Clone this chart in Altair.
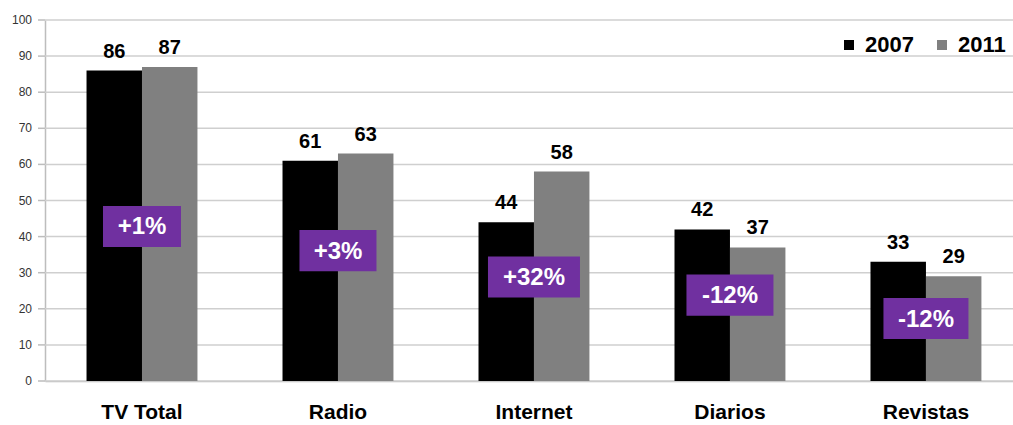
import altair as alt
import pandas as pd

categories = ["TV Total", "Radio", "Internet", "Diarios", "Revistas"]
years = ["2007", "2011"]
values_2007 = [86, 61, 44, 42, 33]
values_2011 = [87, 63, 58, 37, 29]
changes = ["+1%", "+3%", "+32%", "-12%", "-12%"]
# vertical centre of each purple annotation box (in axis units)
box_centers = [42.8, 36.1, 28.8, 23.8, 17.3]
box_widths = [78, 77, 92, 87, 85]
box_half_height = 5.7
y_ticks = [0, 10, 20, 30, 40, 50, 60, 70, 80, 90, 100]

FONT = "Liberation Sans"

rows = []
for c, a, b in zip(categories, values_2007, values_2011):
    rows.append({"cat": c, "year": "2007", "value": a})
    rows.append({"cat": c, "year": "2011", "value": b})
bars_df = pd.DataFrame(rows)

box_df = pd.DataFrame({
    "cat": categories,
    "change": changes,
    "yc": box_centers,
    "y0": [v - box_half_height for v in box_centers],
    "y1": [v + box_half_height for v in box_centers],
    "w": box_widths,
})
grid_df = pd.DataFrame({"t": y_ticks})

x_scale = alt.Scale(domain=categories, paddingInner=0.434, paddingOuter=0.1865, align=0.568)
y_scale = alt.Scale(domain=[0, 100], nice=False)
x_axis = alt.Axis(title=None, labelAngle=0, labelFont=FONT, labelFontSize=21,
                  labelFontWeight="bold", labelColor="#000", labelPadding=20,
                  ticks=False, domainColor="#bdbdbd", domainWidth=1.5)
y_axis = alt.Axis(title=None, labels=False, ticks=False, grid=False,
                  domainColor="#bdbdbd", domainWidth=1.5)


def xe():
    return alt.X("cat:N", scale=x_scale, sort=categories, axis=x_axis)


def ye(field):
    return alt.Y(field, scale=y_scale, axis=y_axis)


xo = alt.XOffset("year:N", scale=alt.Scale(domain=years, paddingInner=0, paddingOuter=0))

grid = alt.Chart(grid_df).mark_rule(color="#cfcfcf", strokeWidth=1.5).encode(
    y=ye("t:Q"),
)
tick_marks = alt.Chart(grid_df).mark_rule(color="#bdbdbd", strokeWidth=1.5).encode(
    y=ye("t:Q"),
    x=alt.value(-7),
    x2=alt.value(0),
)
tick_labels = alt.Chart(grid_df).mark_text(font=FONT, fontSize=12, color="#333",
                                           align="right", baseline="middle").encode(
    y=ye("t:Q"),
    x=alt.value(-13),
    text=alt.Text("t:Q"),
)

bars = alt.Chart(bars_df).mark_bar(stroke=None).encode(
    x=xe(),
    xOffset=xo,
    y=ye("value:Q"),
    color=alt.Color("year:N", scale=alt.Scale(domain=years, range=["#000000", "#808080"]),
                    legend=alt.Legend(title=None, orient="none", legendX=793, legendY=14,
                                      direction="horizontal", symbolType="square",
                                      symbolSize=100, symbolStrokeWidth=0,
                                      labelFont=FONT, labelFontSize=22,
                                      labelFontWeight="bold", labelColor="#000",
                                      labelOffset=5, columnPadding=17)),
)

labels = alt.Chart(bars_df).mark_text(font=FONT, fontSize=20, fontWeight="bold",
                                      color="#000", baseline="alphabetic", dy=-13).encode(
    x=xe(),
    xOffset=xo,
    y=ye("value:Q"),
    text=alt.Text("value:Q"),
)

box_layers = []
for i, w in enumerate(box_widths):
    box_layers.append(
        alt.Chart(box_df).transform_filter(alt.datum.cat == categories[i])
        .mark_bar(color="#7030A0", width=w).encode(
            x=xe(),
            y=ye("y0:Q"),
            y2="y1:Q",
        )
    )

box_text = alt.Chart(box_df).mark_text(font=FONT, fontSize=24, fontWeight="bold",
                                       color="#ffffff", baseline="middle", dy=1).encode(
    x=xe(),
    y=ye("yc:Q"),
    text="change:N",
)

chart = alt.layer(grid, tick_marks, tick_labels, bars, labels, *box_layers, box_text).properties(
    width=968, height=361,
    autosize=alt.AutoSizeParams(type="none"),
    padding={"left": 45, "top": 20, "right": 0, "bottom": 44},
    background="#ffffff",
).configure_view(stroke=None)

chart.save("out.html", embed_options={"renderer": "svg", "actions": False})
